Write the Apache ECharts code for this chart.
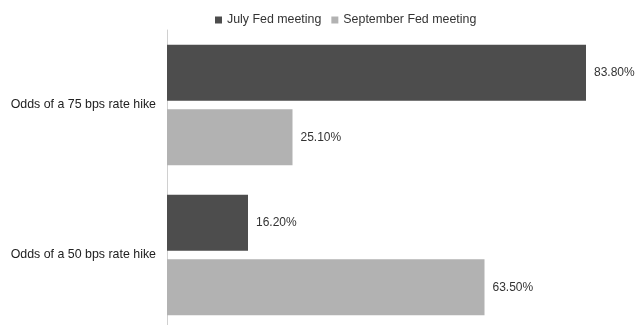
<!DOCTYPE html>
<html>
<head>
<meta charset="utf-8">
<script src="https://cdn.jsdelivr.net/npm/echarts@6/dist/echarts.min.js"></script>
<style>html,body{margin:0;padding:0;background:#fff}#c{width:637px;height:325px}</style>
</head>
<body>
<div id="c"></div>
<script>
const categories = ['Odds of a 75 bps rate hike', 'Odds of a 50 bps rate hike'];
const seriesNames = ['July Fed meeting', 'September Fed meeting'];
const julyValues = [83.8, 16.2];
const septemberValues = [25.1, 63.5];

const chart = echarts.init(document.getElementById('c'), null, {renderer: 'canvas'});
const font = 'Liberation Sans, Arial, sans-serif';
chart.setOption({
  animation: false,
  textStyle: {fontFamily: font},
  legend: {
    top: 9,
    left: 210,
    icon: 'rect',
    itemWidth: 7,
    itemHeight: 7,
    itemGap: 10,
    itemStyle: {borderWidth: 0},
    textStyle: {fontSize: 12.4, color: '#333', fontFamily: font},
    data: seriesNames
  },
  grid: {left: 167, right: 20, top: 30, height: 300, containLabel: false, outerBoundsMode: 'none'},
  xAxis: {
    type: 'value', min: 0, max: 90, show: false,
    splitLine: {show: false}
  },
  yAxis: {
    type: 'category',
    inverse: true,
    data: categories,
    axisLine: {show: true, lineStyle: {color: '#d0d0d0', width: 1}},
    axisTick: {show: false},
    axisLabel: {fontSize: 12.4, color: '#222', margin: 11, fontFamily: font}
  },
  series: [
    {
      name: seriesNames[0], type: 'bar', data: julyValues,
      barWidth: 56, barGap: '15%',
      itemStyle: {color: '#4d4d4d'},
      label: {show: true, position: 'right', distance: 8, fontSize: 12, color: '#333', fontFamily: font,
        formatter: p => p.value.toFixed(2) + '%'}
    },
    {
      name: seriesNames[1], type: 'bar', data: septemberValues,
      barWidth: 56, barGap: '15%',
      itemStyle: {color: '#b2b2b2'},
      label: {show: true, position: 'right', distance: 8, fontSize: 12, color: '#333', fontFamily: font,
        formatter: p => p.value.toFixed(2) + '%'}
    }
  ]
});
</script>
</body>
</html>
